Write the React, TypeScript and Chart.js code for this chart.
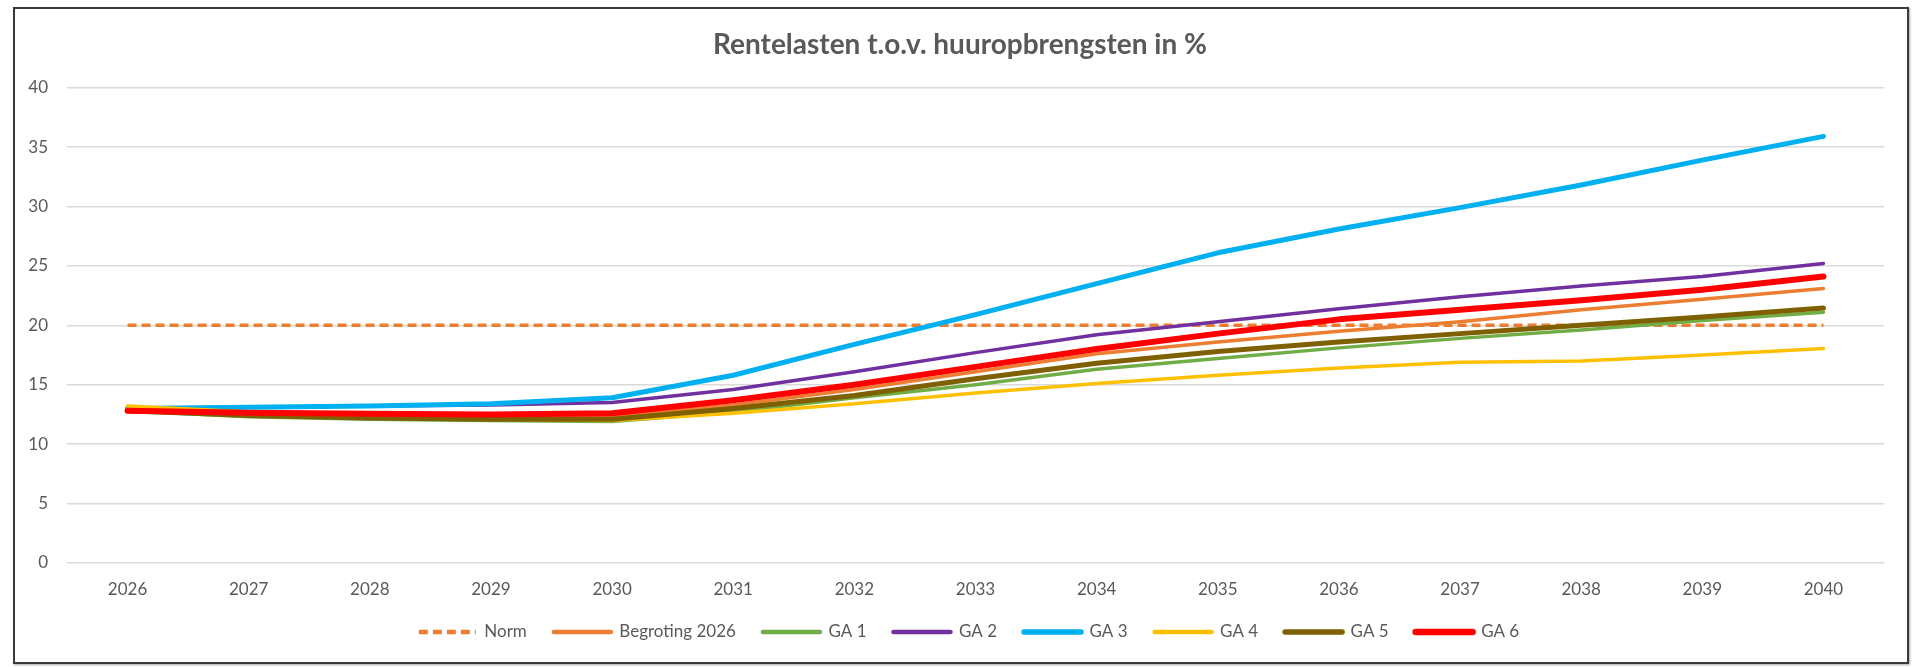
import React, { useEffect, useRef } from "react";
import { Chart, registerables } from "chart.js";

Chart.register(...registerables);

const TITLE = "Rentelasten t.o.v. huuropbrengsten in %";
const YEARS = ["2026", "2027", "2028", "2029", "2030", "2031", "2032", "2033", "2034", "2035", "2036", "2037", "2038", "2039", "2040"];
const Y_MIN = 0;
const Y_MAX = 40;
const Y_STEP = 5;

const NORM = [20, 20, 20, 20, 20, 20, 20, 20, 20, 20, 20, 20, 20, 20, 20];
const BEGROTING_2026 = [12.9, 12.5, 12.3, 12.2, 12.3, 13.3, 14.6, 16.1, 17.6, 18.6, 19.5, 20.3, 21.3, 22.2, 23.1];
const GA1 = [12.8, 12.3, 12.1, 12.0, 11.9, 12.7, 13.9, 15.0, 16.3, 17.2, 18.1, 18.9, 19.6, 20.4, 21.1];
const GA2 = [13.0, 13.1, 13.2, 13.3, 13.5, 14.6, 16.1, 17.7, 19.2, 20.3, 21.4, 22.4, 23.3, 24.1, 25.2];
const GA3 = [13.0, 13.1, 13.2, 13.4, 13.9, 15.8, 18.4, 20.9, 23.5, 26.1, 28.1, 29.9, 31.8, 33.9, 35.9];
const GA4 = [13.2, 12.7, 12.3, 12.1, 12.0, 12.6, 13.4, 14.3, 15.1, 15.8, 16.4, 16.9, 17.0, 17.5, 18.05];
const GA5 = [12.8, 12.4, 12.2, 12.1, 12.1, 13.0, 14.1, 15.5, 16.8, 17.8, 18.6, 19.3, 20.0, 20.7, 21.45];
const GA6 = [12.8, 12.65, 12.55, 12.5, 12.6, 13.7, 15.0, 16.5, 18.0, 19.3, 20.5, 21.3, 22.1, 23.0, 24.1];

const SERIES_NAMES = ["Norm", "Begroting 2026", "GA 1", "GA 2", "GA 3", "GA 4", "GA 5", "GA 6"];
const SERIES_VALUES = [NORM, BEGROTING_2026, GA1, GA2, GA3, GA4, GA5, GA6];
const SERIES_COLORS = ["#ED7D31", "#ED7D31", "#70AD47", "#7030A0", "#00B0F0", "#FFC000", "#7F6000", "#FF0000"];
const SERIES_WIDTHS = [3.5, 3.5, 3.5, 3.5, 5, 3.5, 5, 6];
const LEGEND_WIDTHS = [4.5, 4.5, 4.5, 4.5, 5.5, 4.5, 5.5, 6.5];
const SERIES_DASH: number[][] = [[9, 5], [], [], [], [], [], [], []];

const FONT = "Lato, 'Liberation Sans', sans-serif";
const TEXT = "#595959";

const legendShift = {
  id: "legendShift",
  afterLayout(chart: any) {
    if (chart.legend) {
      chart.legend.left += 9;
      chart.legend.right += 9;
    }
  },
};

export default function App() {
  const ref = useRef<HTMLCanvasElement | null>(null);

  useEffect(() => {
    if (!ref.current) return;
    const n = SERIES_NAMES.length;
    const datasets = SERIES_NAMES.map((name, i) => ({
      label: name,
      data: SERIES_VALUES[i],
      borderColor: SERIES_COLORS[i],
      backgroundColor: SERIES_COLORS[i],
      borderWidth: SERIES_WIDTHS[i],
      borderDash: SERIES_DASH[i],
      borderCapStyle: SERIES_DASH[i].length ? "butt" : "round",
      borderJoinStyle: "round",
      pointRadius: 0,
      pointHoverRadius: 0,
      tension: 0,
      fill: false,
      order: n - 1 - i,
    }));

    const defaultLabels = (Chart.defaults.plugins.legend.labels as any).generateLabels;

    const chart = new Chart(ref.current, {
      type: "line",
      data: { labels: YEARS, datasets: datasets as any },
      plugins: [legendShift],
      options: {
        animation: false,
        responsive: true,
        maintainAspectRatio: false,
        layout: { padding: { left: 0, right: 0, top: 0, bottom: 17.5 } },
        plugins: {
          title: {
            display: true,
            text: TITLE,
            color: TEXT,
            font: { family: FONT, size: 28, weight: "bold" },
            padding: { top: 28, bottom: 26 },
          },
          legend: {
            position: "bottom",
            reverse: true,
            labels: {
              usePointStyle: true,
              pointStyle: "line",
              pointStyleWidth: 57,
              padding: 27,
              color: TEXT,
              font: { family: FONT, size: 17 },
              generateLabels: (c: any) => {
                const items = defaultLabels(c);
                items.forEach((it: any) => {
                  const i = it.datasetIndex;
                  it.lineDash = SERIES_DASH[i];
                  it.lineWidth = LEGEND_WIDTHS[i];
                  it.lineCap = SERIES_DASH[i].length ? "butt" : "round";
                  it.strokeStyle = SERIES_COLORS[i];
                });
                return items;
              },
            },
          },
          tooltip: { enabled: false },
        },
        scales: {
          x: {
            offset: true,
            grid: { display: false, drawTicks: false },
            border: { display: false },
            ticks: { color: TEXT, font: { family: FONT, size: 17 }, padding: 16, maxRotation: 0 },
            afterFit: (s: any) => {
              s.height = 33.5;
            },
          },
          y: {
            min: Y_MIN,
            max: Y_MAX,
            ticks: { stepSize: Y_STEP, color: TEXT, font: { family: FONT, size: 17 }, padding: 19 },
            grid: { color: "#d9d9d9", lineWidth: 1.5, drawTicks: false },
            border: { display: false },
            afterFit: (s: any) => {
              s.width = 67;
            },
          },
          yRight: {
            position: "right",
            display: true,
            min: Y_MIN,
            max: Y_MAX,
            grid: { display: false, drawTicks: false },
            border: { display: false },
            ticks: { display: false },
            afterFit: (s: any) => {
              s.width = 36;
            },
          },
        },
      },
    });
    return () => chart.destroy();
  }, []);

  return (
    <div style={{ position: "absolute", left: 0, top: 0, width: 1920, height: 668, background: "#fff" }}>
      <div
        style={{
          position: "absolute",
          left: 13,
          top: 7,
          width: 1896,
          height: 657,
          boxSizing: "border-box",
          border: "2px solid #3a3a3a",
          boxShadow: "1px 1px 2px rgba(0,0,0,0.35)",
        }}
      />
      <div style={{ position: "absolute", left: 0, top: 0, width: 1920, height: 668 }}>
        <canvas ref={ref} />
      </div>
    </div>
  );
}
